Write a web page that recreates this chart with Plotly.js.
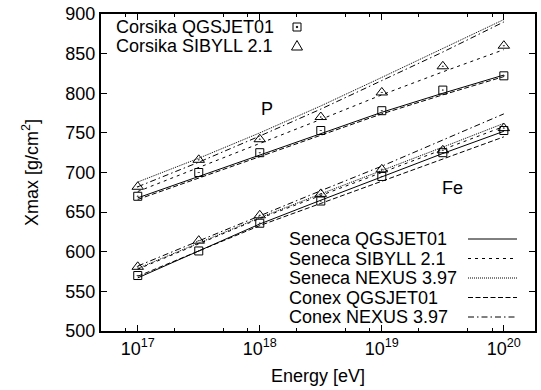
<!DOCTYPE html>
<html><head><meta charset="utf-8">
<script src="https://cdn.plot.ly/plotly-3.0.1.min.js"></script>
<style>html,body{margin:0;padding:0;background:#fff}#chart{width:541px;height:390px}</style>
</head><body><div id="chart"></div>
<script>
// Energies (eV)
const energy = [1e17, 3.162e17, 1e18, 3.162e18, 1e19, 3.162e19, 1e20];

// Corsika points (g/cm^2)
const corsikaQgsjetP  = [670, 700, 725, 753, 778, 804, 822];
const corsikaSibyllP  = [682, 716, 742, 770, 801, 834, 860];
const corsikaQgsjetFe = [570, 601, 636, 664, 695, 725, 753];
const corsikaSibyllFe = [581, 614, 646, 673, 704, 728, 756];

// Seneca / Conex curves - proton
const senecaQgsjetP = [668, 695, 722, 749, 776, 800, 823];
const senecaSibyllP = [676, 706, 736, 767, 798, 827, 855];
const senecaNexusP  = [688, 718, 750, 784, 820, 856, 893];
const conexQgsjetP  = [666, 693, 720, 747, 774, 798, 821];
const conexNexusP   = [682, 713, 746, 780, 816, 852, 890];

// Seneca / Conex curves - iron
const senecaQgsjetFe = [567, 601, 635, 665, 695, 724, 752];
const senecaSibyllFe = [578, 610, 642, 671, 700, 729, 758];
const senecaNexusFe  = [579, 611, 643, 673, 702, 732, 762];
const conexQgsjetFe  = [569, 601, 633, 661, 689, 717, 745];
const conexNexusFe   = [582, 614, 646, 677, 708, 741, 774];

// Axis ticks
const xTickVals = [1e17, 1e18, 1e19, 1e20];
const xTickText = ['10<sup>17</sup>', '10<sup>18</sup>', '10<sup>19</sup>', '10<sup>20</sup>'];
const xMinorVals = [8e16, 2e17, 5e17, 8e17, 2e18, 5e18, 8e18, 2e19, 5e19, 8e19];
const yTickVals = [500, 550, 600, 650, 700, 750, 800, 850, 900];

// Legend labels
const markerLegend = ['Corsika QGSJET01', 'Corsika SIBYLL 2.1'];
const lineLegend = ['Seneca QGSJET01', 'Seneca SIBYLL 2.1', 'Seneca NEXUS 3.97', 'Conex QGSJET01', 'Conex NEXUS 3.97'];

const INK = '#000';
const lineStyles = [
  {dash: 'solid', width: 1},
  {dash: '3px,4px', width: 1},
  {dash: '1px,1px', width: 1},
  {dash: '5px,2.5px', width: 1},
  {dash: '6px,3px,1.5px,3px', width: 1}
];
const lineSets = [
  [senecaQgsjetP, senecaQgsjetFe],
  [senecaSibyllP, senecaSibyllFe],
  [senecaNexusP, senecaNexusFe],
  [conexQgsjetP, conexQgsjetFe],
  [conexNexusP, conexNexusFe]
];

const traces = [];
lineSets.forEach((pair, i) => {
  pair.forEach(ys => {
    traces.push({type: 'scatter', mode: 'lines', x: energy, y: ys,
      line: {color: INK, width: lineStyles[i].width, dash: lineStyles[i].dash},
      showlegend: false, hoverinfo: 'skip'});
  });
});
[[corsikaQgsjetP, 'square-open-dot', 8], [corsikaQgsjetFe, 'square-open-dot', 8],
 [corsikaSibyllP, 'triangle-up-open-dot', 10], [corsikaSibyllFe, 'triangle-up-open-dot', 10]].forEach(([ys, sym, sz]) => {
  traces.push({type: 'scatter', mode: 'markers', x: energy, y: ys,
    marker: {symbol: sym, size: sz, color: INK, line: {color: INK, width: 1}},
    showlegend: false});
});

// pixel -> paper helpers for the hand-made legend
const L = 101, R = 535, T = 14, B = 331;
const px = x => (x - L) / (R - L);
const py = y => (B - y) / (B - T);

const FONT = '"Liberation Sans", Arial, Helvetica, sans-serif';
const annotations = [
  {text: 'P', x: px(267), y: py(109)},
  {text: 'Fe', x: px(452), y: py(188)}
].map(a => Object.assign({xref: 'paper', yref: 'paper', showarrow: false,
  xanchor: 'center', yanchor: 'middle', font: {size: 18, color: INK, family: FONT}}, a));

const shapes = [];
const topRows = [27, 46];
markerLegend.forEach((t, i) => {
  annotations.push({text: t, xref: 'paper', yref: 'paper', x: px(114), y: py(topRows[i]),
    xanchor: 'left', yanchor: 'middle', showarrow: false, font: {size: 18, color: INK, family: FONT}});
});
// square sample
shapes.push({type: 'rect', xref: 'paper', yref: 'paper', xsizemode: 'pixel', ysizemode: 'pixel',
  xanchor: px(297), yanchor: py(topRows[0]), x0: -4, x1: 4, y0: -4, y1: 4,
  line: {color: INK, width: 1}});
shapes.push({type: 'rect', xref: 'paper', yref: 'paper', xsizemode: 'pixel', ysizemode: 'pixel',
  xanchor: px(297), yanchor: py(topRows[0]), x0: -0.6, x1: 0.6, y0: -0.6, y1: 0.6,
  line: {color: INK, width: 1}, fillcolor: INK});
// triangle sample
shapes.push({type: 'path', xref: 'paper', yref: 'paper', xsizemode: 'pixel', ysizemode: 'pixel',
  xanchor: px(297), yanchor: py(topRows[1]), path: 'M -5.5 -4 L 5.5 -4 L 0 5.5 Z',
  line: {color: INK, width: 1}});

const botRows = [239, 258.5, 278, 297.5, 317];
lineLegend.forEach((t, i) => {
  annotations.push({text: t, xref: 'paper', yref: 'paper', x: px(287), y: py(botRows[i]),
    xanchor: 'left', yanchor: 'middle', showarrow: false, font: {size: 18, color: INK, family: FONT}});
  shapes.push({type: 'line', xref: 'paper', yref: 'paper', x0: px(468), x1: px(517),
    y0: py(botRows[i]), y1: py(botRows[i]),
    line: {color: INK, width: lineStyles[i].width, dash: lineStyles[i].dash}});
});

const layout = {
  width: 541, height: 390,
  margin: {l: L, r: 541 - R, t: T, b: 390 - B},
  paper_bgcolor: '#fff', plot_bgcolor: '#fff',
  font: {family: FONT, size: 18, color: INK},
  showlegend: false,
  xaxis: {type: 'log', range: [Math.log10(5e16), Math.log10(1.8e20)],
    tickmode: 'array', tickvals: xTickVals, ticktext: xTickText,
    ticks: 'inside', ticklen: 6, tickwidth: 1, tickcolor: INK,
    minor: {tickmode: 'array', tickvals: xMinorVals, ticks: 'inside', ticklen: 3, tickwidth: 1, tickcolor: INK},
    showline: true, linewidth: 2, linecolor: INK, mirror: 'ticks',
    showgrid: false, zeroline: false,
    tickfont: {size: 18},
    title: {text: 'Energy [eV]', font: {size: 18}, standoff: 12}},
  yaxis: {range: [500, 900], tickmode: 'array', tickvals: yTickVals,
    ticks: 'inside', ticklen: 6, tickwidth: 1, tickcolor: INK,
    showline: true, linewidth: 2, linecolor: INK, mirror: 'ticks',
    showgrid: false, zeroline: false,
    tickfont: {size: 18},
    title: {text: 'Xmax [g/cm<sup>2</sup>]', font: {size: 18}, standoff: 22}},
  annotations: annotations,
  shapes: shapes
};

Plotly.newPlot('chart', traces, layout, {displayModeBar: false, staticPlot: true});
</script></body></html>
